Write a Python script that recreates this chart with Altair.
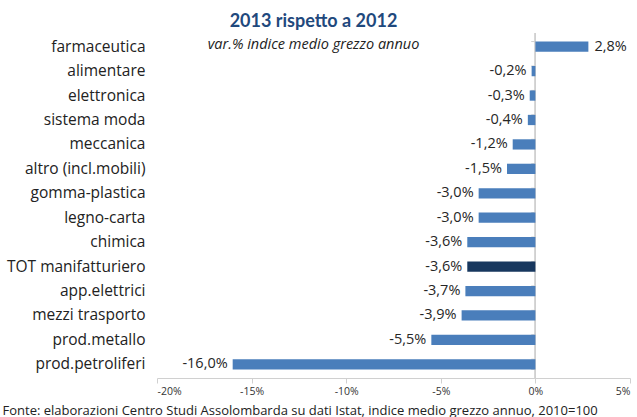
import altair as alt
import pandas as pd

categories = ["farmaceutica", "alimentare", "elettronica", "sistema moda", "meccanica",
              "altro (incl.mobili)", "gomma-plastica", "legno-carta", "chimica",
              "TOT manifatturiero", "app.elettrici", "mezzi trasporto", "prod.metallo",
              "prod.petroliferi"]
values = [2.8, -0.2, -0.3, -0.4, -1.2, -1.5, -3.0, -3.0, -3.6, -3.6, -3.7, -3.9, -5.5, -16.0]
is_total = [c == "TOT manifatturiero" for c in categories]
x_ticks = [-20, -15, -10, -5, 0, 5]

df = pd.DataFrame({"cat": categories, "v": values, "tot": is_total})

FONT = "Open Sans"
ysort = categories
ycat = alt.Y("cat:N", sort=ysort, scale=alt.Scale(paddingInner=0.58, paddingOuter=0.35),
             title=None,
             axis=alt.Axis(orient="left", domain=False, ticks=False, labelFont=FONT, labelFontSize=15.5,
                           labelColor="#222222", labelPadding=12))
xq = alt.X("v:Q", scale=alt.Scale(domain=[-20, 5], nice=False),
           axis=alt.Axis(values=x_ticks, labelExpr="datum.value + '%'", grid=False,
                         domainColor="#d0d0d0", tickColor="#d0d0d0", tickSize=5,
                         labelFont=FONT, labelFontSize=10.5, labelColor="#333333",
                         labelPadding=3,
                         title="Fonte: elaborazioni Centro Studi Assolombarda su dati Istat, indice medio grezzo annuo, 2010=100",
                         titleFont=FONT, titleFontSize=13, titleFontWeight="normal",
                         titleColor="#222222", titleAnchor="start", titleAlign="left",
                         titleBaseline="alphabetic", titleX=-155, titleY=36))

base = alt.Chart(df)

bars = base.mark_bar().encode(
    y=ycat, x=xq,
    color=alt.Color("tot:N", scale=alt.Scale(domain=[False, True], range=["#4a7ebb", "#17375e"]), legend=None),
)

lab_base = base.transform_calculate(
    lab="replace(replace(format(datum.v, '.1f'), '.', ','), '\u2212', '-') + '%'"
)
neg_labels = lab_base.transform_filter("datum.v < 0").mark_text(
    font=FONT, fontSize=14.5, color="#262626", align="right", dx=-5
).encode(y=alt.Y("cat:N", sort=ysort), x="v:Q", text="lab:N")
pos_labels = lab_base.transform_filter("datum.v >= 0").mark_text(
    font=FONT, fontSize=14.5, color="#262626", align="left", dx=6
).encode(y=alt.Y("cat:N", sort=ysort), x="v:Q", text="lab:N")

zero_line = base.mark_rule(color="#d0d0d0", strokeWidth=1).encode(x=alt.datum(0))

zero_ticks = base.mark_rule(color="#d0d0d0", strokeWidth=1).encode(
    y=alt.Y("cat:N", sort=ysort, bandPosition=0),
    x=alt.datum(-0.22), x2=alt.datum(0),
)
zero_ticks_end = base.transform_filter(
    alt.datum.cat == categories[-1]
).mark_rule(color="#d0d0d0", strokeWidth=1).encode(
    y=alt.Y("cat:N", sort=ysort, bandPosition=1),
    x=alt.datum(-0.22), x2=alt.datum(0),
)

chart = alt.layer(zero_line, zero_ticks, zero_ticks_end, bars, neg_labels, pos_labels).properties(
    width=473, height=345,
    autosize=alt.AutoSizeParams(type="none"),
    padding={"left": 157, "top": 33, "right": 7, "bottom": 39},
    title=alt.TitleParams(
        text="2013 rispetto a 2012",
        subtitle="var.% indice medio grezzo annuo",
        font="Lato", fontSize=18, fontWeight="bold", color="#1f497d",
        subtitleFont=FONT, subtitleFontSize=14.5, subtitleFontStyle="italic",
        subtitleColor="#222222", subtitlePadding=7,
        anchor="middle", dx=-80, offset=-19,
    ),
).configure_view(stroke=None)

chart.save("out.html", embed_options={"renderer": "svg", "actions": False})
